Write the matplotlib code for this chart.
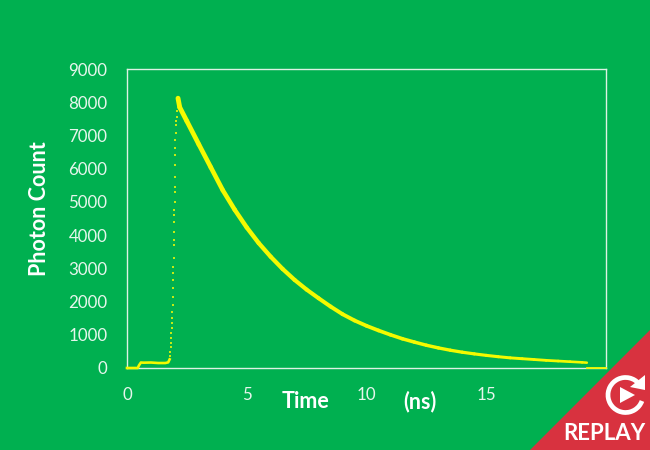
import matplotlib
matplotlib.use("Agg")
import matplotlib.pyplot as plt
from matplotlib.patches import Polygon, Arc

BG = "#00B050"
YEL = "#F4FA00"
LINEC = "#DDF2E4"
RED = "#D8323F"

base_t = [0.0, 0.45, 0.5, 0.58, 0.7, 1.0, 1.3, 1.6, 1.72, 1.78]
base_v = [0, 0, 80, 165, 160, 165, 150, 150, 170, 260]
rise_t = [1.80, 1.81, 1.82, 1.83, 1.84, 1.85, 1.86, 1.87, 1.88, 1.89, 1.90, 1.91, 1.92, 1.93, 1.93, 1.94, 1.95, 1.95, 1.96, 1.96, 1.97, 1.97, 1.98, 1.99, 2.0, 2.0, 2.0, 2.0, 2.01, 2.01, 2.02, 2.03, 2.05, 2.05, 2.07, 2.09, 2.11]
rise_v = [350, 480, 620, 760, 900, 1050, 1200, 1350, 1500, 1700, 1900, 2150, 2400, 2650, 2860, 3050, 3300, 3700, 3850, 4100, 4395, 4600, 4750, 5000, 5300, 5450, 5750, 6110, 6410, 6620, 6860, 7070, 7300, 7420, 7550, 7750, 7950]
decay_t = [2.13, 2.2, 2.5, 3, 3.5, 4, 4.5, 5, 5.5, 6, 6.5, 7, 7.5, 8, 8.5, 9, 9.5, 10, 10.5, 11, 11.5, 12, 12.5, 13, 13.5, 14, 14.5, 15, 15.5, 16, 16.5, 17, 17.5, 18, 18.5, 19, 19.2]
decay_v = [8120, 7850, 7430, 6730, 6040, 5350, 4760, 4230, 3760, 3350, 2980, 2650, 2360, 2100, 1850, 1620, 1430, 1270, 1130, 1000, 880, 780, 685, 605, 535, 475, 425, 380, 340, 305, 280, 255, 230, 210, 190, 170, 160]
tail_t = [19.2, 20.0]
tail_v = [0, 0]
x_ticks = [0, 5, 10, 15]
y_ticks = [0, 1000, 2000, 3000, 4000, 5000, 6000, 7000, 8000, 9000]

plt.rcParams["font.family"] = ["Lato", "DejaVu Sans"]
fig = plt.figure(figsize=(6.5, 4.5), dpi=100, facecolor=BG)
ax = fig.add_axes([127/650, 1-368/450, (606-127)/650, (368-69)/450], facecolor=BG)
ax.set_xlim(0, 20)
ax.set_ylim(0, 9000)
for s in ax.spines.values():
    s.set_color(LINEC)
    s.set_linewidth(1.0)
ax.plot(base_t, base_v, color=YEL, lw=1.9, clip_on=False, zorder=3)
ax.plot(tail_t, tail_v, color=YEL, lw=1.3, clip_on=False, zorder=3)
ax.scatter(rise_t, rise_v, s=3, marker="s", color="#C4EA14", linewidths=0, zorder=3)
n = len(decay_t) - 1
for i in range(n):
    ax.plot(decay_t[i:i+2], decay_v[i:i+2], color=YEL,
            lw=3.5 - 1.7 * i / n, solid_capstyle="round", zorder=3)
ax.set_xticks(x_ticks)
ax.set_yticks(y_ticks)
ax.tick_params(length=0, colors="#E6F6EC", labelsize=12.2)
ax.tick_params(axis="x", pad=14)
ax.tick_params(axis="y", pad=14)

fig.text(305/650, 1-402/450, "Time", color="white", fontsize=15.5, fontweight="bold", ha="center", va="center")
fig.text(420/650, 1-402/450, "(ns)", color="white", fontsize=15.5, fontweight="bold", ha="center", va="center")
fig.text(40/650, 1-209/450, "Photon Count", color="white", fontsize=15.5, fontweight="bold", rotation=90, ha="center", va="center")

ov = fig.add_axes([0, 0, 1, 1], facecolor="none")
ov.set_xlim(0, 650)
ov.set_ylim(450, 0)
ov.axis("off")
ov.add_patch(Polygon([(650, 330), (650, 450), (530, 450)], closed=True, facecolor=RED, edgecolor="none"))
ov.add_patch(Arc((625.5, 395), 35, 35, theta1=20, theta2=320, color="white", lw=3.4))
ov.add_patch(Polygon([(630, 387), (645, 375), (645, 390)], closed=True, facecolor="white", edgecolor="none"))
ov.add_patch(Polygon([(620, 387), (620, 403), (635, 395)], closed=True, facecolor="white", edgecolor="none"))
ov.text(604, 434, "REPLAY", color="white", fontsize=16, fontweight="bold", ha="center", va="center")

fig.savefig("out.png", dpi=100, facecolor=BG)
